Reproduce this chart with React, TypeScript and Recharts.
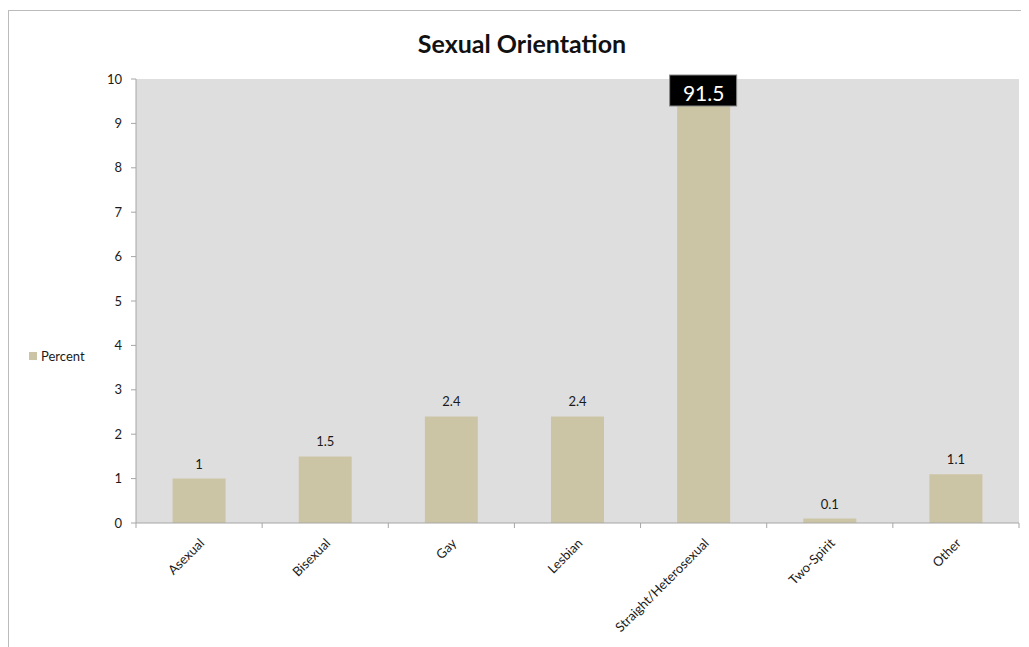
import { BarChart, Bar, XAxis, YAxis, CartesianGrid, Legend } from 'recharts';

const categories = ['Asexual', 'Bisexual', 'Gay', 'Lesbian', 'Straight/Heterosexual', 'Two-Spirit', 'Other'];
const percents = [1, 1.5, 2.4, 2.4, 91.5, 0.1, 1.1];
const yTicks = [0, 1, 2, 3, 4, 5, 6, 7, 8, 9, 10];

const data = categories.map((name, i) => ({ name, Percent: percents[i] }));

const CHART_W = 1020;
const CHART_H = 636;
const MARGIN = { top: 68, right: 10, bottom: 14, left: 7 };
const LEGEND_W = 80;
const YAXIS_W = 40;
const Y_MAX = 10;
const PLOT_LEFT = MARGIN.left + LEGEND_W + YAXIS_W;
const PLOT_W = CHART_W - MARGIN.right - PLOT_LEFT;
const STEP = PLOT_W / categories.length;

const BAR = '#CCC5A5';
const AXIS = '#A6A6A6';

function XTick(props: any) {
  const { x, y, payload, index } = props;
  const axisY = y - 7;
  const left = x - STEP / 2;
  const tx = x + 6;
  const ty = axisY + 21;
  return (
    <g>
      <line x1={left} x2={left} y1={axisY} y2={axisY + 5} stroke={AXIS} />
      {index === categories.length - 1 && (
        <line x1={x + STEP / 2} x2={x + STEP / 2} y1={axisY} y2={axisY + 5} stroke={AXIS} />
      )}
      <text x={tx} y={ty} transform={`rotate(-45, ${tx}, ${ty})`} textAnchor="end" fontSize={13} fill="#1a1a1a">
        {payload.value}
      </text>
    </g>
  );
}

function ValueLabel(props: any) {
  const { x, y, width, value } = props;
  const cx = x + width / 2;
  if (value > Y_MAX) {
    const top = MARGIN.top - 4;
    return (
      <g>
        <rect x={cx - 34} y={top} width={67} height={31} fill="#000" stroke="#888" />
        <text x={cx} y={top + 26} textAnchor="middle" fontSize={21} fill="#fff">
          {value}
        </text>
      </g>
    );
  }
  return (
    <text x={cx} y={y - 10} textAnchor="middle" fontSize={13} fill="#1a1a1a">
      {value}
    </text>
  );
}

function LegendContent() {
  return (
    <div style={{ display: 'flex', alignItems: 'center', fontSize: 13, color: '#1a1a1a' }}>
      <span style={{ display: 'inline-block', width: 8, height: 8, background: BAR, marginRight: 4 }} />
      Percent
    </div>
  );
}

export default function App() {
  return (
    <div
      style={{
        marginTop: 2,
        width: CHART_W,
        height: CHART_H,
        borderLeft: '1px solid #BBBBBB',
        borderTop: '1px solid #BBBBBB',
        fontFamily: 'Lato, "Open Sans", sans-serif',
        background: '#fff',
      }}
    >
      <BarChart width={CHART_W} height={CHART_H} data={data} margin={MARGIN} barCategoryGap="29%">
        <text x={513} y={42} textAnchor="middle" fontSize={25} fontWeight="bold" fill="#111">
          Sexual Orientation
        </text>
        <CartesianGrid fill="#DEDEDE" horizontal={false} vertical={false} />
        <XAxis
          dataKey="name"
          interval={0}
          height={110}
          tickSize={5}
          tickMargin={2}
          tickLine={false}
          stroke={AXIS}
          tick={<XTick />}
        />
        <YAxis
          width={YAXIS_W}
          domain={[0, Y_MAX]}
          ticks={yTicks}
          allowDataOverflow
          tickSize={5}
          tickMargin={9}
          stroke={AXIS}
          tick={{ fontSize: 13, fill: '#1a1a1a' }}
        />
        <Legend
          layout="vertical"
          align="left"
          verticalAlign="middle"
          content={<LegendContent />}
          wrapperStyle={{ width: LEGEND_W, left: 20, top: 337 }}
        />
        <Bar dataKey="Percent" fill={BAR} isAnimationActive={false} label={<ValueLabel />} />
      </BarChart>
    </div>
  );
}
